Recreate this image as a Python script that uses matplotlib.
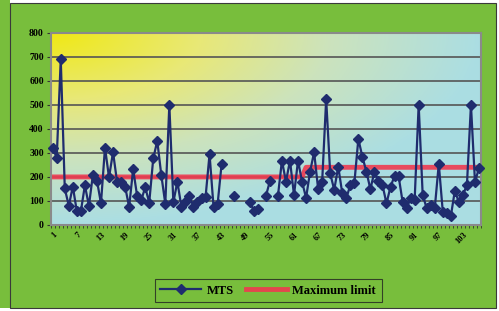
import numpy as np
import matplotlib
matplotlib.use('Agg')
import matplotlib.pyplot as plt
from matplotlib.colors import LinearSegmentedColormap
from matplotlib.patches import Rectangle

nan = np.nan

# MTS readings, one per sample (gaps = no reading)
mts = [320, 280, 690, 152, 80, 160, 57, 57, 165, 80,
       210, 185, 90, 322, 198, 303, 180, 180, 160, 75,
       232, 120, 102, 157, 93, 277, 350, 208, 88, 500,
       95, 180, 76, 97, 121, 76, 97, 111, 115, 295,
       74, 86, 254, nan, nan, 121, nan, nan, nan, 97,
       60, 66, nan, 120, 182, nan, 120, 268, 180, 268,
       125, 268, 180, 113, 222, 303, 150, 180, 523, 215,
       146, 243, 132, 111, 166, 173, 358, 284, 222, 149,
       222, 183, 166, 90, 159, 204, 204, 97, 69, 111,
       104, 500, 125, 69, 83, 69, 254, 55, 49, 37,
       143, 94, 125, 166, 500, 180, 236]
max_limit = [200] * 63 + [240] * 44
samples = np.arange(1, len(mts) + 1)
x_labels = list(range(1, len(mts) + 1, 6))
y_ticks = list(range(0, 801, 100))

green = '#78BE3C'
fig = plt.figure(figsize=(4.99, 3.11), dpi=100, facecolor='white')
# green chart area with thin border
fig.patches.append(Rectangle((0, 3 / 311), 10 / 499, 308 / 311,
                             transform=fig.transFigure, facecolor=green,
                             edgecolor='none', zorder=-20))
fig.patches.append(Rectangle((10 / 499, 3 / 311), 486 / 499, 305 / 311,
                             transform=fig.transFigure, facecolor=green,
                             edgecolor='#3a3a3a', linewidth=0.8, zorder=-10))

ax = fig.add_axes([50.7 / 499, 1 - 225 / 311, 430.3 / 499, 192.3 / 311])

# gradient plot background: yellow top-left to light cyan
cmap = LinearSegmentedColormap.from_list('bg', [
    (0.0, (0.94, 0.91, 0.08)),
    (0.35, (0.91, 0.91, 0.47)),
    (0.65, (0.80, 0.89, 0.74)),
    (1.0, (0.67, 0.87, 0.89))])
u, w = np.meshgrid(np.linspace(0, 1, 200), np.linspace(0, 1, 120))
t = np.clip(np.sqrt(u ** 2 + w ** 2), 0, 1)
ax.imshow(t, cmap=cmap, extent=[0.5, len(mts) + 0.5, 0, 800], origin='upper',
          aspect='auto', zorder=0, interpolation='bilinear')

for v in y_ticks[1:]:
    ax.axhline(v, color='#555555', lw=1.2, zorder=1)

ax.plot(samples, max_limit, color='#EE3A50', lw=3.5, zorder=2, alpha=0.9,
        label='Maximum limit')
ax.plot(samples, mts, color='#1F2C6E', lw=1.6, marker='D', markersize=5,
        zorder=3, label='MTS', clip_on=False)

ax.set_xlim(0.5, len(mts) + 0.5)
ax.set_ylim(0, 800)
ax.set_yticks(y_ticks)
ax.set_xticks(x_labels)
ax.set_xticks(np.arange(0.5, len(mts) + 1, 1), minor=True)
tf = dict(family='Liberation Serif', weight='bold', size=7)
ax.set_yticklabels([str(v) for v in y_ticks], fontdict=tf)
ax.set_xticklabels([str(v) for v in x_labels], fontdict=dict(tf, size=6),
                   rotation=45, ha='right', va='top', rotation_mode='anchor')
ax.tick_params(axis='x', which='major', length=0, pad=4)
ax.tick_params(axis='x', which='minor', length=2.5, width=0.6, color='#333333')
ax.tick_params(axis='y', length=3, width=0.8, color='#333333', pad=2)
for s in ax.spines.values():
    s.set_color('#8a8a8a')
    s.set_linewidth(1.5)

handles, labels = ax.get_legend_handles_labels()
leg = fig.legend(handles[::-1], labels[::-1], loc='center',
                 bbox_to_anchor=(268 / 499, 1 - 290.5 / 311), ncol=2,
                 frameon=True, fancybox=False, handlelength=3.3,
                 columnspacing=1.0, borderpad=0.45, handletextpad=0.4,
                 prop=dict(family='Liberation Serif', weight='bold', size=9))
leg.get_frame().set_facecolor(green)
leg.get_frame().set_edgecolor('#222222')
leg.get_frame().set_linewidth(0.8)

fig.savefig('out.png', dpi=100, facecolor=fig.get_facecolor())
